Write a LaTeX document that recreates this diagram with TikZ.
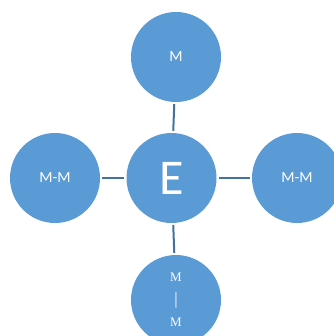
\documentclass[tikz,border=0pt]{standalone}
\usepackage{fontspec}
\setmainfont{Carlito}
\newfontfamily\serifm{Liberation Serif}
\definecolor{ballblue}{HTML}{5B9BD5}
\definecolor{linkblue}{HTML}{41719C}
\begin{document}
\begin{tikzpicture}[x=1pt,y=-1pt,
	ball/.style={circle,fill=ballblue,minimum size=90pt,inner sep=0pt,text=white,font=\fontsize{15.5}{17}\selectfont},
	link/.style={draw=linkblue,line width=2pt,shorten >=2pt,shorten <=2pt}]
	\useasboundingbox (0,0) rectangle (333,336);
	\node[ball,font=\fontsize{50}{50}\selectfont] (e) at (171.5,178) {E};
	\node[ball] (top) at (176,57) {M};
	\node[ball] (left) at (55,178) {M-M};
	\node[ball] (right) at (297,178) {M-M};
	\node[ball,align=center,font=\serifm\fontsize{13}{22.5}\selectfont] (bottom) at (176,300) {M\\{\fontsize{17}{22.5}\selectfont|}\\M};
	\draw[link] (e) -- (top);
	\draw[link] (e) -- (left);
	\draw[link] (e) -- (right);
	\draw[link] (e) -- (bottom);
\end{tikzpicture}
\end{document}
